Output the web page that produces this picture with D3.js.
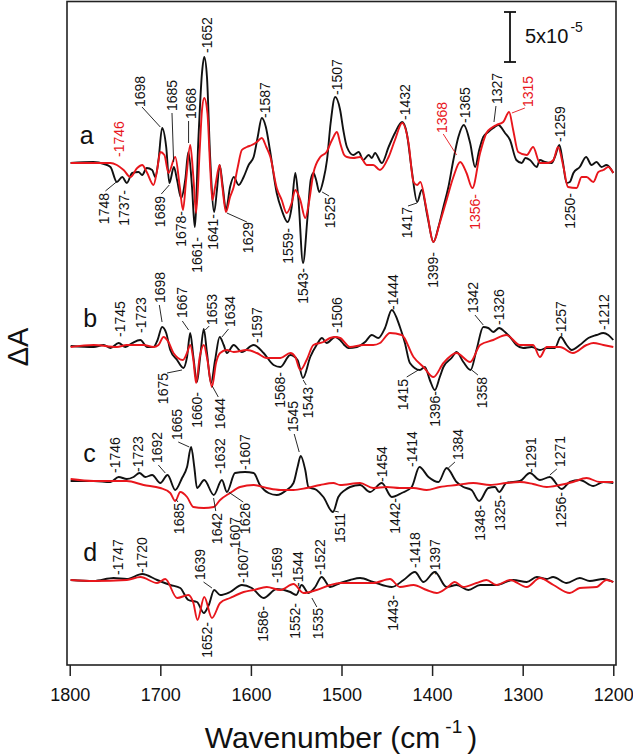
<!DOCTYPE html>
<html><head><meta charset="utf-8">
<script src="https://cdn.jsdelivr.net/npm/d3@7"></script>
<style>body{margin:0;background:#fff}svg{display:block}text{font-family:"Liberation Sans",Arial,Helvetica,sans-serif}</style>
</head><body><svg id="c" width="633" height="756"></svg>
<script>
// ΔA values in units of 1e-5, relative to each trace's own zero line; x = wavenumber (cm-1)
const aBlack=[[1799,0],[1774,0.1],[1762,-0.1],[1755,-0.4],[1748,-1.9],[1742,-1.4],[1737,-2.0],[1731,-1.0],[1724,-0.9],[1720,-1.2],[1715,-0.5],[1709,-0.7],[1705.5,-1.4],[1702,0.3],[1698,3.5],[1693.5,1.6],[1690,-2.0],[1685,-0.4],[1681.5,-1.7],[1677,-3.5],[1672.5,-1.7],[1669,1.1],[1665,-2.4],[1662,-6.4],[1658,2.3],[1654,9.0],[1651.5,10.6],[1648.5,8.6],[1645,0.6],[1640.5,-4.9],[1637.5,-2.7],[1634.5,-0.2],[1631,-2.4],[1627.5,-4.7],[1623,-2.4],[1619,-1.4],[1613.5,-2.2],[1608,-1.4],[1602.5,-0.2],[1597,0.6],[1592.5,2.6],[1588,4.5],[1583.5,3.6],[1579,1.3],[1571.5,-3.0],[1566,-4.7],[1559.5,-5.9],[1555,-4.4],[1551,-1.0],[1547.5,-3.7],[1542.5,-10.0],[1537.5,-5.4],[1534,-1.7],[1531,-1.0],[1528,-1.7],[1524.5,-2.9],[1520,-1.7],[1516,0.3],[1512,4.0],[1507,6.6],[1501.5,5.3],[1498,3.3],[1494,1.6],[1487,0.8],[1481,1.1],[1476,0.3],[1470,0.8],[1466.5,0.5],[1463,1.0],[1455.5,0],[1448,1.6],[1441,3.0],[1433,4.1],[1428,3.0],[1422.5,-0.7],[1416.5,-3.9],[1411.5,-2.7],[1405,-5.4],[1398.5,-7.9],[1393,-6.4],[1387.5,-4.4],[1382,-2.4],[1376.5,0.3],[1371,2.6],[1365,3.8],[1358,2.0],[1352.5,-0.4],[1348,1.3],[1343.5,2.6],[1338,3.1],[1332.5,3.5],[1327,3.8],[1319.5,3.0],[1314,2.3],[1307,0.3],[1301,0],[1297,0.5],[1292,0.3],[1284.5,-0.4],[1281,0.3],[1275.5,0.1],[1268,0],[1264.5,0.6],[1259.5,1.8],[1256,0.3],[1251.5,-2.0],[1248,-1.9],[1244,-1.0],[1237,-0.4],[1230,0.6],[1224,-0.2],[1218.5,0.1],[1213,-0.4],[1207.5,-0.2],[1200,-1.0]];
const aRed=[[1799,0],[1755,0],[1748,-0.2],[1740.5,-0.7],[1733,-1.4],[1725.5,-0.5],[1720,-0.2],[1715,-0.9],[1707.5,-2.2],[1703.5,-0.7],[1700,1.1],[1695.5,0.8],[1691,-1.0],[1683.5,0.6],[1678.5,-2.4],[1675,-4.7],[1671.5,-1.7],[1667,1.8],[1663.5,-1.4],[1660.5,-5.0],[1656.5,1.3],[1654,5.3],[1651.5,6.5],[1648,5.0],[1645,-0.4],[1642.5,-3.7],[1639.5,-2.4],[1634.5,-0.2],[1631.5,-2.4],[1627.5,-4.9],[1623,-3.4],[1619,-2.4],[1614.5,-0.4],[1610,1.3],[1604.5,1.6],[1599,1.8],[1593.5,2.1],[1588,2.5],[1583,1.6],[1578.5,0.6],[1571.5,-2.5],[1566,-3.7],[1560.5,-5.0],[1555,-4.0],[1551,-2.7],[1545.5,-3.7],[1540,-5.5],[1535.5,-3.7],[1531,-1.0],[1523.5,0.6],[1516.5,1.1],[1510.5,2.3],[1505,3.1],[1501.5,2.0],[1497,0.8],[1494,0.6],[1487,0.5],[1479.5,0.6],[1472,-0.2],[1465,-0.2],[1457.5,-0.7],[1448,0.6],[1441,2.3],[1433,4.0],[1426,2.0],[1420.5,-1.9],[1416.5,-2.2],[1413,-1.9],[1406,-4.7],[1398.5,-7.9],[1391.5,-6.0],[1384,-3.7],[1376.5,-1.4],[1369,0.1],[1362,-1.0],[1355.5,-2.5],[1347,1.0],[1340,3.0],[1334.5,3.5],[1329,3.8],[1321.5,4.1],[1315,5.1],[1310.5,3.3],[1305,1.1],[1295.5,0.8],[1288.5,1.6],[1281,0],[1272,0],[1266,0.3],[1261,1.6],[1255,-0.4],[1250,-2.4],[1240.5,-2.5],[1235,-1.4],[1229.5,-1.4],[1222,-1.9],[1216.5,-0.9],[1211,-0.7],[1205.5,-0.4],[1200,-1.0]];
const bBlack=[[1799,0],[1773.5,-0.1],[1762.5,0.1],[1755,-0.2],[1746,0.3],[1738.5,-0.1],[1731,0.3],[1722,0.6],[1714.5,-0.1],[1707.5,-0.1],[1703,0.6],[1698,1.9],[1693.5,1.3],[1689,-0.4],[1681.5,-1.4],[1674.5,-2.2],[1670.5,-1.1],[1667,1.3],[1663.5,-1.1],[1659.5,-3.6],[1656,-1.1],[1652,1.7],[1648.5,-0.7],[1644,-3.7],[1639.5,-1.4],[1634.5,0.9],[1630,0.1],[1626.5,-0.7],[1619,0.1],[1610,-0.6],[1597,0.1],[1586,-0.7],[1575,-1.9],[1567.5,-2.1],[1556.5,-0.9],[1548.5,-1.4],[1542.5,-3.2],[1534.5,-1.1],[1527.5,0.1],[1521.5,0.8],[1516.5,0.3],[1507,0.9],[1501.5,0.6],[1497,0.1],[1492.5,-0.2],[1483,-0.1],[1474,0.4],[1466.5,1.1],[1459.5,0.8],[1452,1.8],[1444.5,3.6],[1435.5,1.9],[1430,0.3],[1424.5,-1.7],[1413.5,-2.4],[1408,-2.1],[1402.5,-3.4],[1397,-4.4],[1391.5,-3.1],[1387.5,-2.1],[1378.5,-1.2],[1373,-0.6],[1365.5,-1.6],[1357.5,-2.4],[1351,-0.4],[1343.5,1.9],[1338,1.8],[1332.5,1.4],[1326,1.8],[1319.5,1.4],[1314,0.9],[1307,0.1],[1299.5,-0.2],[1290,-0.1],[1281,-0.4],[1273.5,-0.2],[1264.5,-0.2],[1258,0.9],[1251.5,0.1],[1246,-0.4],[1237,0.1],[1227.5,0.8],[1218.5,1.1],[1211,1.3],[1205.5,1.1],[1200,0.6]];
const bRed=[[1799,-0.1],[1773.5,0.1],[1748,-0.1],[1737,0.1],[1718.5,0.1],[1707.5,-0.1],[1702,0.1],[1696.5,0.9],[1691,0.4],[1685.5,-0.7],[1675,-1.4],[1670.5,-0.7],[1667,0.1],[1663.5,-1.4],[1660.5,-3.7],[1656.5,-1.1],[1652,0.1],[1648,-1.4],[1643,-4.1],[1638.5,-1.7],[1634,-0.7],[1626.5,-0.4],[1619,-0.6],[1604.5,-0.4],[1593.5,-0.7],[1582.5,-1.2],[1567.5,-1.2],[1556.5,-0.7],[1551,-1.1],[1545.5,-2.4],[1538.5,-1.4],[1531,0.1],[1520,0.4],[1512.5,0.8],[1507,0.9],[1501.5,0.8],[1490.5,-0.1],[1476,0.1],[1465,0.1],[1457.5,0.3],[1446.5,1.3],[1433.5,1.1],[1420.5,-1.1],[1409.5,-2.1],[1398.5,-3.1],[1387.5,-1.7],[1373,-0.7],[1358,-1.6],[1347,0.1],[1332.5,0.6],[1318,1.1],[1303,0.1],[1288.5,0.1],[1281,-1.1],[1273.5,-0.1],[1259,-0.1],[1244.5,-0.7],[1229.5,0.1],[1222,0.3],[1211,0.1],[1200,-0.1]];
const cBlack=[[1799,0],[1773.5,0],[1755,-0.1],[1746,0.4],[1737,0.2],[1729.5,0.4],[1723,0.8],[1716.5,0.4],[1709,0.6],[1700,-0.2],[1692,0.6],[1683.5,-0.9],[1676,0.3],[1670.5,1.4],[1666,3.4],[1662.5,1.4],[1659.5,-0.7],[1651.5,0.1],[1641,-1.4],[1632,0.1],[1626.5,-1.1],[1617.5,0.8],[1606.5,0.9],[1597,0.8],[1590,-0.4],[1580.5,-1.2],[1571.5,-1.4],[1560.5,-0.9],[1553,-0.2],[1548.5,1.4],[1545,2.5],[1540,1.1],[1536.5,-0.6],[1527.5,-0.9],[1520,-1.6],[1509.5,-3.1],[1503.5,-1.6],[1496,-0.9],[1490.5,-0.6],[1479.5,-0.4],[1468.5,-1.1],[1455.5,-0.2],[1444.5,-1.6],[1433.5,-1.2],[1422.5,-0.6],[1414,1.4],[1404,0.4],[1393,-0.1],[1384,1.3],[1373,-0.1],[1365.5,-0.6],[1356.5,-0.9],[1348,-2.0],[1338,-0.7],[1330.5,-0.6],[1326,-1.1],[1318,-0.2],[1303,0],[1292,0.8],[1281,0.1],[1270,0.4],[1257,-0.8],[1248,-0.1],[1237,0.1],[1222,-0.5],[1211,-0.1],[1200,-0.2]];
const cRed=[[1799,0.2],[1773.5,0],[1737,0],[1718.5,-0.4],[1700,-0.7],[1689,-1.2],[1683.5,-2.0],[1678,-1.1],[1670.5,-1.6],[1663.5,-2.6],[1652,-2.7],[1641,-2.6],[1634,-1.9],[1623,-1.2],[1612,-0.6],[1597,-0.4],[1582.5,-0.7],[1567.5,-0.9],[1553,-0.9],[1538.5,-0.7],[1523.5,-0.4],[1509,-0.2],[1501.5,-0.4],[1479.5,-0.2],[1465,-0.7],[1450,-0.6],[1435.5,-0.7],[1420.5,-0.7],[1406,-0.9],[1391.5,-0.6],[1373,-0.4],[1354.5,-0.2],[1336,-0.4],[1318,-0.2],[1303,-0.1],[1288.5,-0.3],[1273.5,-0.6],[1259,-0.4],[1244.5,-0.1],[1229.5,0.3],[1215,-0.1],[1200,-0.1]];
const dBlack=[[1799,0],[1773.5,-0.1],[1751.5,0.2],[1737,0.1],[1720,0.6],[1703.5,0],[1689,-0.5],[1678,-0.8],[1669,-2.0],[1659.5,-2.2],[1652,-3.3],[1646.5,-2.5],[1640.5,-1.0],[1634,-1.5],[1623,-1.2],[1610,-0.5],[1599,-0.8],[1586,-1.8],[1571.5,-0.9],[1556.5,-1.2],[1550,-1.5],[1544,-0.5],[1536.5,-1.3],[1529,-0.7],[1522,0.3],[1512.5,-0.7],[1501.5,-0.3],[1490.5,0],[1479.5,0.2],[1465,-0.2],[1444.5,-0.7],[1431.5,0],[1419,0.8],[1409.5,-0.2],[1397,0.8],[1384,-0.7],[1373,-0.5],[1360,-1.0],[1347,-0.5],[1329,-0.5],[1310.5,0],[1295.5,-0.2],[1284.5,0.3],[1273.5,0.1],[1266.5,0.3],[1251.5,-0.3],[1237,0.2],[1226,-0.1],[1211,0.1],[1200,-0.2]];
const dRed=[[1799,0],[1773.5,-0.1],[1737,0],[1722,0.3],[1703.5,-0.3],[1694.5,0.1],[1681.5,-1.8],[1669,-1.5],[1663.5,-2.3],[1659,-4.0],[1651.5,-1.7],[1643,-3.8],[1634,-2.3],[1623,-1.8],[1608,-1.2],[1597,-1.0],[1582.5,-0.7],[1567.5,-1.0],[1553,-0.4],[1542,-1.3],[1527.5,-1.0],[1512.5,-0.5],[1501.5,-0.3],[1483,-0.3],[1465,-0.3],[1446.5,0.1],[1435.5,-0.7],[1420.5,-0.5],[1406,-1.0],[1395,-1.3],[1384,-0.8],[1375,-0.2],[1365.5,-0.7],[1351,-0.3],[1340,0],[1329,-0.5],[1314,0],[1295.5,-0.7],[1281,0.2],[1266,-0.5],[1248,-1.3],[1237,-0.8],[1218.5,-0.7],[1207.5,0],[1200,-0.2]];

const xTicks=[1800,1700,1600,1500,1400,1300,1200];
const traceNames=["a","b","c","d"];
const traceOffsets=[0,-18.3,-31.8,-41.7];

// peak labels: [text, wavenumber, value, direction, red?, leader]
const labelsA=[["-1652",1648.5,11.0,"u"],["1698",1722,5.6,"u",0,[1720.2,5.6,1700,3.6]],["1685",1687.1,5.2,"u",0,[1687.1,5.0,1685.3,0.1]],["1668",1665.8,4.4,"u",0,[1668.8,4.2,1668.8,2.0]],["-1746",1746,0.6,"u",1],["1748",1762.5,-3.0,"d",0,[1760.6,-2.8,1748.5,-1.9]],["1737-",1740.5,-2.7,"d"],["1689",1700,-3.3,"d",0,[1698.9,-3.1,1690.1,-2.2]],["1678-",1677.2,-4.8,"d"],["1661-",1659.5,-7.4,"d"],["1641-",1641.2,-5.1,"d"],["1629",1602.6,-5.9,"d",0,[1604.4,-5.9,1626.5,-5.0]],["-1587",1584.2,4.5,"u"],["1559-",1558.5,-6.5,"d"],["1543-",1542,-10.5,"d"],["1525",1512.6,-3.4,"d",0,[1513.7,-3.3,1521.4,-2.9]],["-1507",1505.2,6.8,"u"],["-1432",1429.9,4.3,"u"],["1417",1428,-4.4,"d",0,[1426.6,-4.3,1416.7,-4.0]],["1399-",1398.7,-8.9,"d"],["1368",1389.4,3.0,"u",1,[1387.7,2.9,1372.9,0.8]],["-1365",1363.7,4.0,"u"],["1356-",1352.7,-3.1,"d",1],["1327",1328.8,5.9,"u",0,[1329.5,5.7,1331.7,4.1]],["1315",1293.9,5.6,"u",1,[1297.6,5.5,1311.9,5.0]],["-1259",1259,2.1,"u"],["1250-",1248,-3.0,"d"]];
const labelsB=[["-1745",1744.9,0.9,"u"],["-1723",1720.9,1.3,"u"],["1698",1700,4.3,"u",0,[1701.1,4.1,1698.1,2.4]],["1667",1676.1,2.8,"u",0,[1675.7,2.5,1668.8,1.6]],["1653",1643,2.1,"u",0,[1646,2.0,1650.4,1.6]],["1634",1622.8,1.9,"u",0,[1624.7,1.7,1632,0.9]],["-1597",1593.4,0.3,"u"],["-1506",1505.2,1.3,"u"],["1675",1696.4,-2.7,"d",0,[1692.6,-2.7,1676.1,-2.4]],["1660-",1659.5,-4.6,"d"],["1644",1633.8,-5.2,"d",0,[1636,-5.1,1642.7,-4.0]],["1568-",1567.7,-2.6,"d"],["1543",1536.5,-4.1,"d",0,[1539,-3.9,1542.3,-3.4]],["-1444",1443.4,3.6,"u"],["1415",1431.8,-3.3,"d",0,[1428,-3.1,1415.2,-2.4]],["1396-",1396.8,-4.5,"d"],["1342",1354.6,3.3,"u",0,[1352.7,3.1,1343.5,2.1]],["-1326",1325.9,2.1,"u"],["1358",1345.3,-3.1,"d",0,[1349.4,-2.9,1356.3,-2.4]],["-1257",1257.1,0.9,"u"],["-1212",1210.5,1.6,"u"]];
const labelsC=[["-1746",1749.6,0.8,"u"],["-1723",1725,0.9,"u"],["1692",1703.6,1.8,"u",0,[1702.2,1.6,1694.5,0.8]],["1665",1681.3,4.1,"u",0,[1680.2,3.9,1668,3.4]],["-1632",1633.8,0.7,"u"],["-1607",1606.3,1.1,"u"],["1545",1553.4,4.9,"u",0,[1552.2,4.7,1546.7,2.9]],["1685",1679.8,-2.2,"d",0,[1680.5,-2.1,1683,-1.8]],["1642",1637.5,-3.2,"d",0,[1638.8,-3.0,1641.2,-1.7]],["1607",1617.3,-3.6,"d"],["1626",1606.3,-2.2,"d",0,[1608.5,-2.1,1624.7,-1.1]],["1511",1501.5,-3.2,"d",0,[1503,-3.1,1508,-3.0]],["-1454",1455.6,-0.1,"u"],["-1414",1422.5,1.4,"u"],["1384",1371.1,2.1,"u",0,[1374.8,1.9,1382.1,1.3]],["1442-",1440.9,-1.7,"d"],["1348-",1347.2,-2.4,"d"],["1325-",1325.2,-1.4,"d"],["-1291",1290.2,0.8,"u"],["1271",1259,1.4,"u",0,[1262.3,1.2,1270,0.6]],["1256-",1257.1,-1.1,"d"]];
const labelsD=[["-1747",1747.1,0.5,"u"],["-1720",1720.2,0.7,"u"],["1639",1655.9,0,"u",0,[1652.3,-0.2,1643,-0.8]],["-1607",1608.2,-0.3,"u"],["-1569",1571.3,-0.3,"u"],["-1544",1547.5,-0.7,"u"],["-1522",1523.6,0.5,"u"],["1652-",1648.5,-4.2,"d"],["1586-",1586.1,-2.6,"d"],["1552-",1551.2,-2.3,"d"],["1535",1525.5,-2.8,"d",0,[1527.2,-2.7,1532.7,-1.8]],["1443-",1442.8,-1.5,"d"],["-1418",1418.9,1.2,"u"],["-1397",1396.8,0.5,"u"]];

const RED="#e8161c", BLK="#111";
const svg=d3.select("#c");
const x=d3.scaleLinear().domain([1803,1197]).range([67,616]);
const y=d3.scaleLinear().domain([-50.2,16.15]).range([665,1.5]);

const traces=[
 {black:aBlack,red:aRed,labels:labelsA},
 {black:bBlack,red:bRed,labels:labelsB},
 {black:cBlack,red:cRed,labels:labelsC},
 {black:dBlack,red:dRed,labels:labelsD}];

traces.forEach((tr,i)=>{
  const off=traceOffsets[i];
  const line=d3.line().x(d=>x(d[0])).y(d=>y(d[1]+off)).curve(d3.curveMonotoneX);
  const g=svg.append("g");
  g.append("path").attr("d",line(tr.black)).attr("fill","none").attr("stroke",BLK).attr("stroke-width",1.9).attr("stroke-linejoin","round");
  g.append("path").attr("d",line(tr.red)).attr("fill","none").attr("stroke",RED).attr("stroke-width",1.9).attr("stroke-linejoin","round");
  tr.labels.forEach(l=>{
    const [t,wn,v,dir,red,lead]=l;
    const col=red?RED:BLK;
    g.append("text").attr("transform",`translate(${x(wn)},${y(v+off)}) rotate(-90)`)
      .attr("text-anchor",dir==="u"?"start":"end").attr("dy","0.35em")
      .attr("font-size",14).attr("fill",col).text(t);
    if(lead){
      g.append("line").attr("x1",x(lead[0])).attr("y1",y(lead[1]+off)).attr("x2",x(lead[2])).attr("y2",y(lead[3]+off))
        .attr("stroke",col).attr("stroke-width",0.9);
    }
  });
  g.append("text").attr("x",x(i===0?1789:1785)).attr("y",y(1.9+off)).attr("font-size",25).attr("fill",BLK).text(traceNames[i]);
});

// frame
svg.append("rect").attr("x",67).attr("y",1.5).attr("width",549).attr("height",663.5)
  .attr("fill","none").attr("stroke","#222").attr("stroke-width",1.6);

// x axis
const ax=svg.append("g").attr("transform","translate(0,665)")
  .call(d3.axisBottom(x).tickValues(xTicks).tickFormat(d3.format("d")).tickSize(11).tickPadding(12));
ax.select(".domain").remove();
ax.selectAll(".tick line").attr("stroke","#222").attr("stroke-width",1.5);
ax.selectAll(".tick text").attr("font-size",18).attr("fill","#111").attr("font-family",'"Liberation Sans",Arial,sans-serif');

// axis titles
const t=svg.append("text").attr("x",341).attr("y",748).attr("text-anchor","middle").attr("font-size",30).attr("fill","#111");
t.append("tspan").text("Wavenumber (cm");
t.append("tspan").attr("font-size",19).attr("dy",-15).attr("dx",5).text("-1");
t.append("tspan").attr("dy",15).attr("dx",5).text(")");
svg.append("text").attr("transform","translate(18,347) rotate(-90)").attr("text-anchor","middle").attr("dy","0.35em")
  .attr("font-size",29).attr("fill","#111").text("ΔA");

// scale bar 5x10^-5
const sbX=x(1314);
const sb=svg.append("g").attr("stroke","#111").attr("stroke-width",1.8);
sb.append("line").attr("x1",sbX).attr("x2",sbX).attr("y1",y(15.1)).attr("y2",y(10.1));
sb.append("line").attr("x1",sbX-6).attr("x2",sbX+6).attr("y1",y(15.1)).attr("y2",y(15.1));
sb.append("line").attr("x1",sbX-6).attr("x2",sbX+6).attr("y1",y(10.1)).attr("y2",y(10.1));
const st=svg.append("text").attr("x",sbX+15).attr("y",y(12.0)).attr("font-size",20).attr("fill","#111");
st.append("tspan").text("5x10");
st.append("tspan").attr("font-size",14).attr("dy",-11).attr("dx",2).text("-5");
</script></body></html>
